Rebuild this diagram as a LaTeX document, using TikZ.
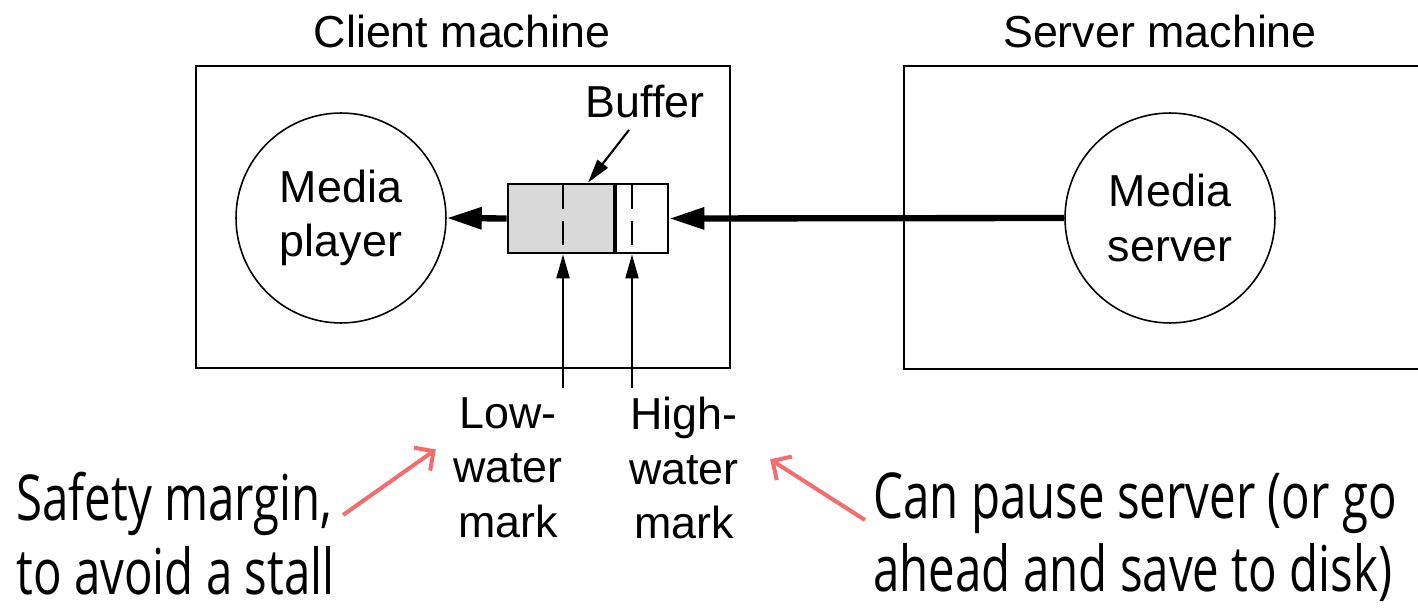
\documentclass[tikz,border=0pt]{standalone}
\usepackage{fontspec}
\setmainfont{Liberation Sans}
\newfontfamily\notefont[FakeStretch=0.75]{Open Sans}
\usetikzlibrary{arrows.meta,positioning}
\definecolor{notered}{HTML}{F26D6D}
\definecolor{bufgray}{HTML}{D9D9D9}
\tikzset{
  machine/.style={draw, line width=1.6pt},
  proc/.style={draw, circle, line width=0.9pt, minimum size=4.2cm, inner sep=0pt, align=center, font=\fontsize{25.5}{31}\selectfont},
  lbl/.style={inner sep=0pt, align=center, font=\fontsize{25.5}{31}\selectfont},
  flow/.style={line width=3.6pt, -{Triangle[length=0.7cm, width=0.42cm]}},
  pointer/.style={line width=1.2pt, -{Triangle[length=0.48cm, width=0.26cm]}},
  note/.style={inner sep=0pt, align=left, font=\notefont\fontsize{36}{42}\selectfont},
  notearrow/.style={notered, line width=2.3pt, -{Straight Barb[length=0.28cm, width=0.56cm]}},
}
\begin{document}
\begin{tikzpicture}[x=0.02cm, y=-0.02cm]
\clip (0,0) rectangle (1418,608);
\draw[machine] (196,66) rectangle (730,368);
\draw[machine] (904,66) rectangle (1440,369);
\node[lbl, anchor=base] (clientlbl) at (462,48) {Client machine};
\node[lbl, anchor=base] (serverlbl) at (1160,48) {Server machine};
\node[proc] (player) at (341,218) {Media\\player};
\node[proc] (server) at (1170,218) {Media\\server};
\fill[bufgray] (508,184) rectangle (615,253);
\node[draw, line width=1.6pt, minimum width=3.2cm, minimum height=1.38cm, inner sep=0pt] (buf) at (588,218.5) {};
\draw[line width=1.8pt] (615,184) -- (615,253);
\draw[line width=1.5pt, dash pattern=on 14 off 7] (563,184) -- (563,253);
\draw[line width=1.5pt, dash pattern=on 14 off 7] (632,184) -- (632,253);
\node[lbl, anchor=base] (buflbl) at (645,118) {Buffer};
\coordinate (bufptr) at (629,130);
\draw[pointer] (bufptr) -- (buf.north);
\draw[flow] (buf.west) -- (player.east);
\draw[flow] (server.west) -- (buf.east);
\coordinate (lowtail) at (563,388);
\coordinate (hightail) at (632,388);
\draw[pointer] (lowtail) -- (lowtail |- buf.south);
\draw[pointer] (hightail) -- (hightail |- buf.south);
\node[lbl, anchor=north] (lowmark) at (508,397) {Low-\\water\\mark};
\node[lbl, anchor=north] (highmark) at (684,397) {High-\\water\\mark};
\node[note, anchor=north west] (safety) at (16,472) {Safety margin,\\to avoid a stall};
\node[note, anchor=north west] (pause) at (873,472) {Can pause server (or go\\ahead and save to disk)};
\coordinate (safetytail) at (343,515);
\coordinate (pausetail) at (865,520);
\draw[notearrow] (safetytail) -- ([xshift=-0.34cm, yshift=0.36cm]lowmark.west);
\draw[notearrow] (pausetail) -- ([xshift=0.62cm, yshift=0.18cm]highmark.east);
\end{tikzpicture}
\end{document}
